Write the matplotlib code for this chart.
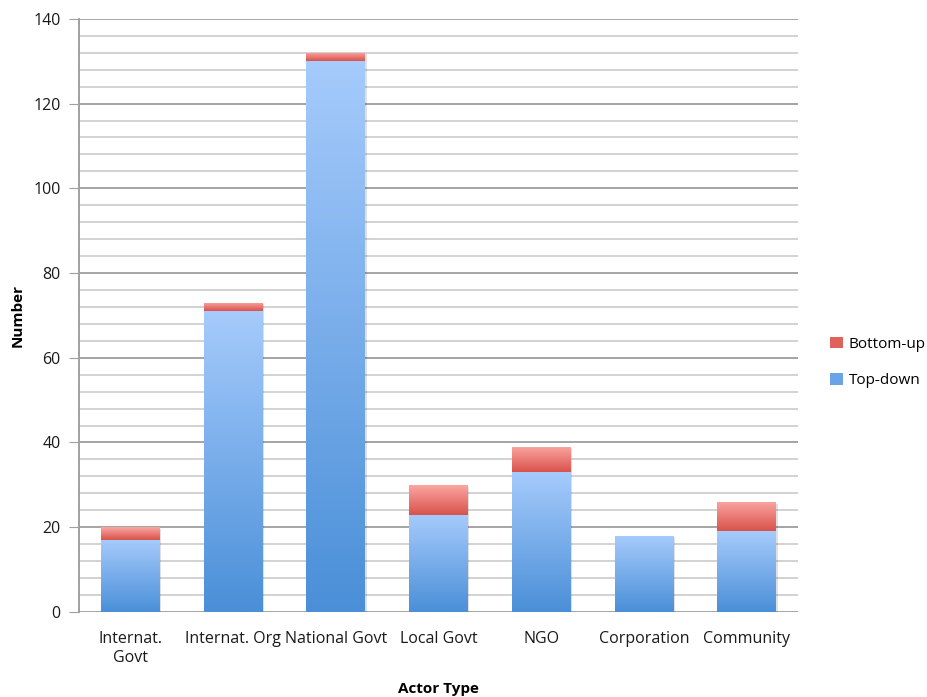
import numpy as np
import matplotlib.pyplot as plt
from matplotlib.colors import LinearSegmentedColormap
from matplotlib.patches import Patch

# datos del grafico
categorias = ["Internat.\nGovt", "Internat. Org", "National Govt", "Local Govt",
              "NGO", "Corporation", "Community"]
top_down = [17, 71, 130, 23, 33, 18, 19]
bottom_up = [3, 2, 2, 7, 6, 0, 7]

plt.rcParams['font.family'] = ['Open Sans', 'DejaVu Sans']

fig = plt.figure(figsize=(9.28, 6.97), dpi=100)
ax = fig.add_axes([0.085, 0.122, 0.775, 0.851])

azul = LinearSegmentedColormap.from_list("azul", ["#4a8fd8", "#a6cbfc"])
rojo = LinearSegmentedColormap.from_list("rojo", ["#d8524a", "#fba6a2"])
grad = np.linspace(0, 1, 256).reshape(-1, 1)

x = np.arange(len(categorias))
ancho = 0.57

# barras de abajo (top-down) y arriba (bottom-up)
b1 = ax.bar(x, top_down, ancho, color="none", edgecolor="none", zorder=3)
b2 = ax.bar(x, bottom_up, ancho, bottom=top_down, color="none", edgecolor="none", zorder=3)

for barras, cmap in [(b1, azul), (b2, rojo)]:
    for b in barras:
        if b.get_height() <= 0:
            continue
        x0, y0 = b.get_x(), b.get_y()
        w, h = b.get_width(), b.get_height()
        # sombra
        ax.add_patch(plt.Rectangle((x0 + 0.015, y0 - 0.4), w, h, color="#000000",
                                   alpha=0.12, zorder=2, lw=0))
        im = ax.imshow(grad, cmap=cmap, aspect="auto", origin="lower",
                       extent=[x0, x0 + w, y0, y0 + h], zorder=3)
        im.set_clip_path(b)

ax.set_xlim(-0.5, 6.5)
ax.set_ylim(0, 140)
ax.set_yticks(range(0, 141, 20))
ax.set_yticks(range(0, 141, 4), minor=True)
ax.grid(which="major", axis="y", color="#a4a4a4", lw=1.4, zorder=0)
ax.grid(which="minor", axis="y", color="#d2d2d2", lw=1.4, zorder=0)
ax.set_xticks(x)
ax.set_xticklabels(categorias, fontsize=11.5, color="#1a1a1a")
ax.tick_params(axis="x", length=0, pad=14)
ax.tick_params(axis="y", which="major", length=7, color="#a0a0a0", labelsize=11.5,
               labelcolor="#1a1a1a", pad=6)
ax.tick_params(axis="y", which="minor", length=0)
for s in ["top", "right", "bottom"]:
    ax.spines[s].set_visible(False)
ax.spines["left"].set_color("#a0a0a0")
ax.spines["left"].set_linewidth(1.4)

ax.set_ylabel("Number", fontweight="bold", fontsize=11, labelpad=6)
ax.set_xlabel("Actor Type", fontweight="bold", fontsize=11, labelpad=12)

handles = [Patch(facecolor="#e0625b", label="Bottom-up"),
           Patch(facecolor="#6aa3e6", label="Top-down")]
fig.legend(handles=handles, loc="center left", bbox_to_anchor=(0.885, 0.48),
           frameon=False, fontsize=11, handlelength=0.8, handleheight=0.8,
           handletextpad=0.4, labelspacing=1.4, borderaxespad=0.2)

fig.savefig("out.png", dpi=100)
